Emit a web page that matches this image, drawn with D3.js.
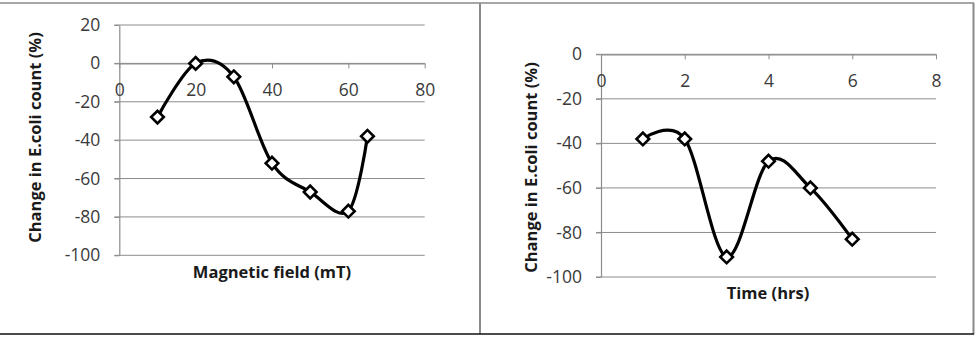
<!DOCTYPE html>
<html>
<head>
<meta charset="utf-8">
<script src="https://cdn.jsdelivr.net/npm/d3@7"></script>
<style>
  body { margin: 0; background: #fff; }
  svg { display: block; }
  svg text { font-family: "Open Sans", sans-serif; }
</style>
</head>
<body>
<div id="wrapper"></div>
<script>
// data
const fieldValues = [10, 20, 30, 40, 50, 60, 65];
const fieldChange = [-28, 0, -7, -52, -67, -77, -38];
const fieldXTicks = [0, 20, 40, 60, 80];
const fieldYTicks = [20, 0, -20, -40, -60, -80, -100];

const timeValues = [1, 2, 3, 4, 5, 6];
const timeChange = [-38, -38, -91, -48, -60, -83];
const timeXTicks = [0, 2, 4, 6, 8];
const timeYTicks = [0, -20, -40, -60, -80, -100];

const yTitle = 'Change in E.coli count (%)';

function drawPanels() {
  const width = 979;
  const height = 338;

  const svg = d3
    .select('#wrapper')
    .append('svg')
    .attr('width', width)
    .attr('height', height);

  // frame lines round the two panels
  svg.append('line').attr('x1', 0).attr('x2', 974).attr('y1', 3).attr('y2', 3)
    .attr('stroke', '#8a8a8a').attr('stroke-width', 1.5);
  svg.append('line').attr('x1', 480).attr('x2', 480).attr('y1', 3).attr('y2', 334)
    .attr('stroke', '#8a8a8a').attr('stroke-width', 2);
  svg.append('line').attr('x1', 973.5).attr('x2', 973.5).attr('y1', 3).attr('y2', 334)
    .attr('stroke', '#8a8a8a').attr('stroke-width', 2);
  svg.append('line').attr('x1', 0).attr('x2', 974).attr('y1', 334).attr('y2', 334)
    .attr('stroke', '#111').attr('stroke-width', 1.5);

  const panels = [
    {
      xs: fieldValues, ys: fieldChange, xTicks: fieldXTicks, yTicks: fieldYTicks,
      xDomain: [0, 80], yDomain: [-100, 20],
      left: 119.3, right: 424.7, top: 25, bottom: 255.3,
      xTitle: 'Magnetic field (mT)', xTitlePos: [272, 277.5],
      yTitlePos: [35, 137.5],
    },
    {
      xs: timeValues, ys: timeChange, xTicks: timeXTicks, yTicks: timeYTicks,
      xDomain: [0, 8], yDomain: [-100, 0],
      left: 601, right: 936, top: 54.3, bottom: 277,
      xTitle: 'Time (hrs)', xTitlePos: [768, 299],
      yTitlePos: [531.5, 167.5],
    },
  ];

  const plain = (d) => String(d);

  panels.forEach((p) => {
    const xScale = d3.scaleLinear().domain(p.xDomain).range([p.left, p.right]);
    const yScale = d3.scaleLinear().domain(p.yDomain).range([p.bottom, p.top]);

    const g = svg.append('g');

    // gridlines
    g.append('g')
      .selectAll('line')
      .data(p.yTicks)
      .join('line')
      .attr('x1', p.left - 5)
      .attr('x2', p.right)
      .attr('y1', (d) => yScale(d))
      .attr('y2', (d) => yScale(d))
      .attr('stroke', '#8c8c8c')
      .attr('stroke-width', 1);

    // y axis
    const yAxis = g
      .append('g')
      .attr('transform', `translate(${p.left},0)`)
      .call(
        d3.axisLeft(yScale).tickValues(p.yTicks).tickFormat(plain)
          .tickSize(5).tickPadding(14).tickSizeOuter(0),
      );
    yAxis.attr('font-family', null).attr('font-size', null);
    yAxis.select('.domain').attr('stroke', '#8c8c8c').attr('stroke-width', 1.2);
    yAxis.selectAll('.tick line').attr('stroke', '#8c8c8c');
    yAxis.selectAll('text')
      .attr('fill', '#3a3a3a')
      .style('font-size', '17.5px');

    // x axis sits on the zero line
    const xAxis = g
      .append('g')
      .attr('transform', `translate(0,${yScale(0)})`)
      .call(
        d3.axisBottom(xScale).tickValues(p.xTicks).tickFormat(plain)
          .tickSize(5).tickPadding(15).tickSizeOuter(0),
      );
    xAxis.attr('font-family', null).attr('font-size', null);
    xAxis.select('.domain').attr('stroke', '#8c8c8c').attr('stroke-width', 1.2);
    xAxis.selectAll('.tick line').attr('stroke', '#8c8c8c');
    xAxis.selectAll('text')
      .attr('fill', '#3a3a3a')
      .style('font-size', '17.5px');

    // smoothed line
    const points = p.xs.map((x, i) => [x, p.ys[i]]);
    const lineGen = d3
      .line()
      .x((d) => xScale(d[0]))
      .y((d) => yScale(d[1]))
      .curve(d3.curveCardinal.tension(0));

    g.append('path')
      .datum(points)
      .attr('d', lineGen)
      .attr('fill', 'none')
      .attr('stroke', '#000')
      .attr('stroke-width', 3.2);

    // diamond markers
    const diamond = d3.symbol().type(d3.symbolSquare).size(80);
    g.append('g')
      .selectAll('path')
      .data(points)
      .join('path')
      .attr('d', diamond)
      .attr('transform', (d) => `translate(${xScale(d[0])},${yScale(d[1])}) rotate(45)`)
      .attr('fill', '#fff')
      .attr('stroke', '#000')
      .attr('stroke-width', 2.6);

    // titles
    g.append('text')
      .attr('x', p.xTitlePos[0])
      .attr('y', p.xTitlePos[1])
      .attr('text-anchor', 'middle')
      .style('font-size', '16.5px')
      .style('font-weight', 'bold')
      .attr('fill', '#1a1a1a')
      .text(p.xTitle);

    g.append('text')
      .attr('transform', `translate(${p.yTitlePos[0]},${p.yTitlePos[1]}) rotate(-90)`)
      .attr('text-anchor', 'middle')
      .attr('dy', '0.35em')
      .style('font-size', '16.5px')
      .style('font-weight', 'bold')
      .attr('fill', '#1a1a1a')
      .text(yTitle);
  });
}

drawPanels();
</script>
</body>
</html>
